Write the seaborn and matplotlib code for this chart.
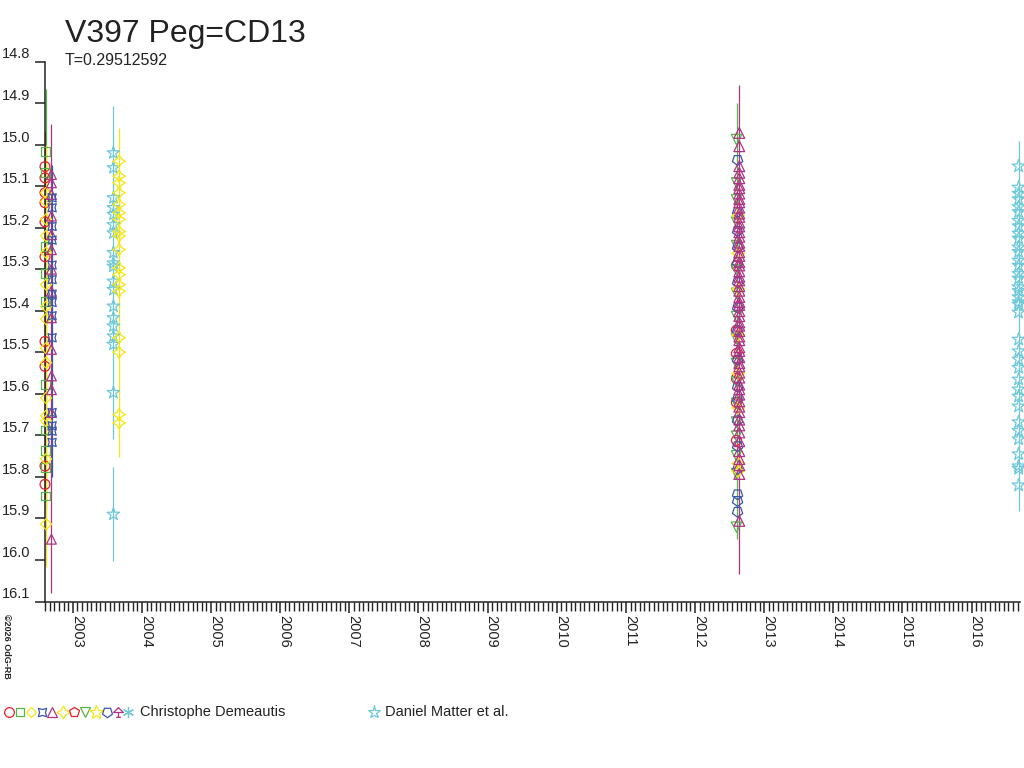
# V397 Peg light curve (magnitude vs year)
import numpy as np
import pandas as pd
import matplotlib
matplotlib.use("Agg")
import matplotlib.pyplot as plt
import seaborn as sns
from matplotlib.path import Path
from matplotlib.ticker import MultipleLocator, FormatStrFormatter


sns.set_style("ticks")
plt.rcParams["font.family"] = ["Liberation Sans", "DejaVu Sans"]

title = "V397 Peg=CD13"
subtitle = "T=0.29512592"
copyright_txt = "\u00a92026 OdG-RB"
observers = ["Christophe Demeautis", "Daniel Matter et al."]

# colours
RED = "#e8202a"
GREEN = "#50b848"
YELLOW = "#f5e614"
BLUE = "#3a55a8"
PURPLE = "#b03282"
CYAN = "#6ec8d8"
INK = "#222222"

# odd symbol used by the observer's 11th series
umbrella = Path(
    [(0, 1), (-1, 0), (1, 0), (0, 1), (0, 0), (0, -1), (-0.5, -1), (0.5, -1)],
    [Path.MOVETO, Path.LINETO, Path.LINETO, Path.LINETO,
     Path.MOVETO, Path.LINETO, Path.MOVETO, Path.LINETO],
)

# legend symbols of Christophe Demeautis (marker, colour, legend size)
cd_markers = ["o", "s", "D", (4, 1, 45), "^", (4, 1, 0), "p", "v", "*", (5, 0, 180), umbrella, (6, 2, 0)]
cd_colors = [RED, GREEN, YELLOW, BLUE, PURPLE, YELLOW, RED, GREEN, YELLOW, BLUE, PURPLE, CYAN]
cd_ms = [7, 6, 5.5, 8.5, 7, 9.5, 7.5, 7, 10, 7.5, 7, 8]

# --- season 2002 (Christophe Demeautis) ---
c1_red = [15.053, 15.08, 15.116, 15.14, 15.186, 15.27, 15.474, 15.534, 15.774, 15.818]
c1_green = [15.016, 15.067, 15.245, 15.31, 15.377, 15.577, 15.687, 15.737, 15.777, 15.846]
c1_yellow = [15.116, 15.137, 15.18, 15.22, 15.26, 15.337, 15.39, 15.42, 15.49, 15.525,
             15.61, 15.653, 15.665, 15.757, 15.914]
c1_purple = [15.072, 15.092, 15.12, 15.172, 15.217, 15.253, 15.3, 15.353, 15.417, 15.493,
             15.557, 15.59, 15.645, 15.95]
c1_blue = [15.128, 15.152, 15.197, 15.23, 15.29, 15.325, 15.36, 15.38, 15.412, 15.465,
           15.645, 15.677, 15.69, 15.717]

# --- season 2003 ---
c2_matter = [15.02, 15.056, 15.128, 15.152, 15.168, 15.193, 15.213, 15.26, 15.285, 15.293,
             15.329, 15.349, 15.389, 15.417, 15.437, 15.461, 15.481, 15.597, 15.89]
c2_yellow = [15.04, 15.076, 15.092, 15.116, 15.144, 15.164, 15.18, 15.209, 15.22, 15.253,
             15.297, 15.313, 15.337, 15.353, 15.465, 15.50, 15.65, 15.67]

# --- season 2012 (Christophe Demeautis) ---
c3_purple = [14.972, 15.004, 15.052, 15.068, 15.081, 15.097, 15.105, 15.118, 15.131, 15.139,
             15.152, 15.166, 15.174, 15.188, 15.197, 15.211, 15.222, 15.236, 15.244, 15.259,
             15.268, 15.283, 15.291, 15.305, 15.318, 15.327, 15.341, 15.352, 15.367, 15.379,
             15.386, 15.401, 15.413, 15.428, 15.436, 15.449, 15.462, 15.471, 15.488, 15.497,
             15.512, 15.526, 15.534, 15.549, 15.561, 15.578, 15.589, 15.602, 15.618, 15.631,
             15.644, 15.662, 15.676, 15.693, 15.714, 15.738, 15.757, 15.772, 15.793, 15.906]
c3_blue = [15.037, 15.162, 15.208, 15.247, 15.284, 15.331, 15.392, 15.447, 15.518, 15.583,
           15.612, 15.664, 15.726, 15.781, 15.842, 15.858, 15.884]
c3_green = [14.988, 15.092, 15.133, 15.187, 15.243, 15.302, 15.358, 15.414, 15.468, 15.527,
            15.571, 15.623, 15.668, 15.702, 15.749, 15.792, 15.921]
c3_yellow = [15.171, 15.262, 15.348, 15.459, 15.551, 15.634, 15.768, 15.786]
c3_red = [15.291, 15.447, 15.503, 15.563, 15.621, 15.712]

# --- season 2016 (Daniel Matter et al.) ---
c4_matter = [15.052, 15.103, 15.118, 15.131, 15.150, 15.162, 15.183, 15.196, 15.214, 15.226,
             15.247, 15.258, 15.279, 15.291, 15.311, 15.322, 15.343, 15.352, 15.367, 15.379,
             15.385, 15.404, 15.469, 15.497, 15.517, 15.537, 15.565, 15.589, 15.606, 15.63,
             15.668, 15.689, 15.709, 15.745, 15.774, 15.78, 15.82]

# (date, magnitudes, marker, colour, marker area)
groups = [
    (2002.598, c1_red, "o", RED, 50),
    (2002.610, c1_green, "s", GREEN, 40),
    (2002.614, c1_yellow, "D", YELLOW, 32),
    (2002.691, c1_purple, "^", PURPLE, 50),
    (2002.701, c1_blue, (4, 1, 45), BLUE, 70),
    (2003.587, c2_matter, "*", CYAN, 90),
    (2003.670, c2_yellow, (4, 1, 0), YELLOW, 85),
    (2012.598, c3_red, "o", RED, 50),
    (2012.600, c3_green, "v", GREEN, 55),
    (2012.615, c3_blue, (5, 0, 180), BLUE, 60),
    (2012.625, c3_yellow, (4, 1, 0), YELLOW, 85),
    (2012.640, c3_purple, "^", PURPLE, 60),
    (2016.680, c4_matter, "*", CYAN, 95),
]

# error ranges drawn as vertical lines
err_x = [2002.604, 2002.610, 2002.614, 2002.691, 2002.701, 2003.587, 2003.587, 2003.670,
         2012.611, 2012.640, 2016.680]
err_lo = [14.968, 14.865, 15.0, 14.95, 15.05, 14.908, 15.777, 14.96, 14.90, 14.856, 14.992]
err_hi = [15.86, 15.88, 16.017, 16.08, 15.80, 15.709, 16.002, 15.753, 15.95, 16.034, 15.882]
err_col = [RED, GREEN, YELLOW, PURPLE, BLUE, CYAN, CYAN, YELLOW, GREEN, PURPLE, CYAN]

fig = plt.figure(figsize=(10.24, 7.68), dpi=100)
ax = fig.add_axes([45 / 1024, 1 - 601.5 / 768, 975 / 1024, 540 / 768])

ax.vlines(err_x, err_lo, err_hi, colors=err_col, lw=0.9, zorder=1, clip_on=False)

for date, mags, mk, col, size in groups:
    df = pd.DataFrame({"year": [date] * len(mags), "mag": mags})
    sns.scatterplot(data=df, x="year", y="mag", marker=mk, color=col, facecolor="none",
                    edgecolor=col, s=size, linewidth=0.9, ax=ax, legend=False,
                    clip_on=False, zorder=3)

ax.set_xlim(2002.598, 2016.70)
ax.set_ylim(16.1, 14.8)
ax.set_xlabel("")
ax.set_ylabel("")

ax.set_yticks(np.round(np.arange(14.8, 16.15, 0.1), 1))
ax.yaxis.set_major_formatter(FormatStrFormatter("%.1f"))
ax.xaxis.set_major_locator(MultipleLocator(1))
ax.xaxis.set_minor_locator(MultipleLocator(1 / 15))
ax.xaxis.set_major_formatter(FormatStrFormatter("%d"))

sns.despine(ax=ax)
for side in ["left", "bottom"]:
    ax.spines[side].set_color(INK)
    ax.spines[side].set_linewidth(1.1)

ax.tick_params(axis="y", direction="out", length=7.5, width=1.1, color=INK,
               labelsize=10.5, labelcolor=INK, pad=3)
ax.tick_params(axis="x", which="major", direction="out", length=8, width=1.1, color=INK,
               labelsize=10.5, labelcolor=INK, pad=1.5, labelrotation=-90)
ax.tick_params(axis="x", which="minor", direction="out", length=6.5, width=1.0, color=INK)
for lab in ax.get_yticklabels():
    lab.set_va("bottom")
for lab in ax.get_xticklabels():
    lab.set_ha("left")
    lab.set_va("baseline")
    lab.set_rotation_mode("anchor")

fig.text(65 / 1024, 1 - 42 / 768, title, fontsize=23, color=INK, va="baseline")
fig.text(65 / 1024, 1 - 65 / 768, subtitle, fontsize=11.5, color=INK, va="baseline")
fig.text(2 / 1024, 1 - 614 / 768, copyright_txt, fontsize=6.5, rotation=-90,
         color=INK, va="top", ha="left", fontweight="bold")

# legend row along the bottom (pixel coordinates)
lg = fig.add_axes([0, 0, 1, 1], facecolor="none")
lg.set_xlim(0, 1024)
lg.set_ylim(768, 0)
lg.axis("off")
for i, (mk, col, ms) in enumerate(zip(cd_markers, cd_colors, cd_ms)):
    lg.plot(9 + 10.85 * i, 712, marker=mk, ms=ms, mfc="none", mec=col, mew=0.9, ls="none")
lg.text(140, 712, observers[0], fontsize=10.5, color=INK, va="center", ha="left")
lg.plot(374, 712, marker="*", ms=9.5, mfc="none", mec=CYAN, mew=0.9, ls="none")
lg.text(385, 712, observers[1], fontsize=10.5, color=INK, va="center", ha="left")

fig.savefig("out.png", dpi=100)
